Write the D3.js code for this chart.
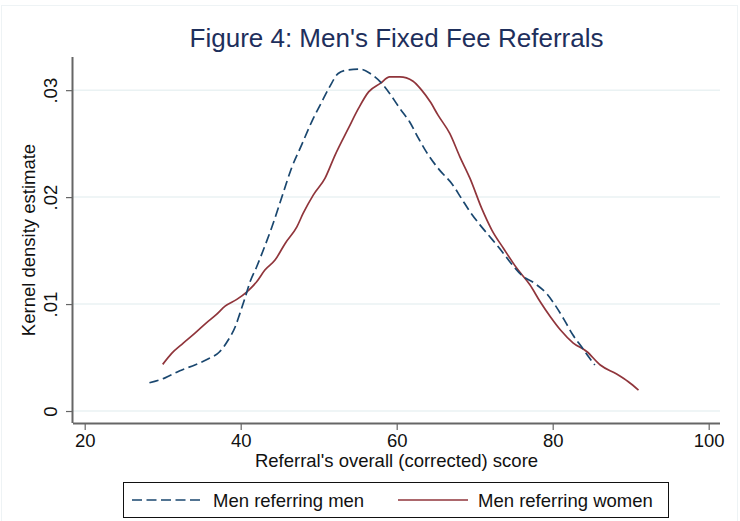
<!DOCTYPE html>
<html><head><meta charset="utf-8">
<script src="https://cdn.jsdelivr.net/npm/d3@7"></script>
<style>body{margin:0;background:#fff}svg{display:block;font-family:Arial,"Liberation Sans",sans-serif}</style>
</head><body>
<svg id="c" width="740" height="521"></svg>
<script>
const title = "Figure 4: Men's Fixed Fee Referrals";
const xTitle = "Referral's overall (corrected) score";
const yTitle = "Kernel density estimate";
const xTicks = [20, 40, 60, 80, 100];
const yTicks = [0, 0.01, 0.02, 0.03];
const yTickLabels = ["0", ".01", ".02", ".03"];
const seriesNames = ["Men referring men", "Men referring women"];

const menX = [28.3,30.3,32.2,34.2,35.8,37.3,38.4,39.3,39.9,40.6,41.2,42.05,42.9,44.0,45.5,46.5,47.8,49.1,50.4,51.4,52.5,53.6,55.3,56.6,57.9,59.1,60.4,61.65,62.8,63.8,65.5,67.05,68.3,69.4,70.7,71.95,73.2,74.5,76.0,77.7,79.2,80.3,81.5,82.6,83.7,84.6,85.4];
const menY = [0.00264,0.0031,0.00377,0.00433,0.00486,0.00554,0.00664,0.00788,0.00913,0.01068,0.01208,0.01349,0.01505,0.0172,0.0205,0.02268,0.02486,0.02704,0.02891,0.03031,0.03156,0.03187,0.03196,0.03156,0.03078,0.02969,0.02829,0.02704,0.02549,0.02423,0.02252,0.02128,0.01988,0.01863,0.01738,0.01629,0.0152,0.01396,0.01271,0.01193,0.011,0.00991,0.0085,0.0071,0.006,0.00507,0.0043];

const womenX = [30.0,31.15,32.6,34.1,35.6,36.9,38.0,39.5,40.8,42.05,43.1,44.4,45.7,47.2,48.0,49.3,50.8,52.1,53.8,55.1,56.4,57.9,59.1,60.4,62.1,63.2,64.3,65.3,66.8,68.1,69.4,70.9,72.2,73.7,75.4,77.1,78.4,79.7,81.0,82.6,84.4,86.1,88.2,89.7,91.0];
const womenY = [0.00436,0.00539,0.00633,0.00726,0.00825,0.00904,0.00981,0.01044,0.01115,0.01208,0.01318,0.01411,0.01567,0.01722,0.01847,0.02019,0.02175,0.02393,0.02642,0.02829,0.02984,0.03063,0.03124,0.03124,0.03084,0.03,0.02891,0.02766,0.02595,0.02377,0.02175,0.01894,0.01692,0.0152,0.01334,0.01178,0.01021,0.00881,0.00757,0.00638,0.00554,0.0043,0.00346,0.00274,0.00196];

const colors = ["#1a476f", "#90353b"];
const svg = d3.select("#c");
const L = 73, R = 720, T = 57, B = 423;
const x = d3.scaleLinear().domain([18.5, 101.45]).range([L, R]);
const y = d3.scaleLinear().domain([-0.00112, 0.0331]).range([B, T]);

svg.append("rect").attr("x",1.5).attr("y",5.5).attr("width",736).attr("height",520)
  .attr("fill","#fff").attr("stroke","#eef3f5").attr("stroke-width",1);

// gridlines
svg.append("g").selectAll("line").data(yTicks).join("line")
  .attr("x1",L).attr("x2",R).attr("y1",d=>y(d)).attr("y2",d=>y(d))
  .attr("stroke","#eaf2f3").attr("stroke-width",1.5);

// axes
const gx = svg.append("g").attr("transform",`translate(0,${B})`)
  .call(d3.axisBottom(x).tickValues(xTicks).tickSize(7).tickPadding(4).tickFormat(d3.format("d")));
gx.select(".domain").attr("d", `M${L},0.5H${R}`);
const gy = svg.append("g").attr("transform",`translate(${L},0)`)
  .call(d3.axisLeft(y).tickValues(yTicks).tickSize(7).tickPadding(4).tickFormat((d,i)=>yTickLabels[i]));
gy.select(".domain").attr("d", `M-0.5,${T}V${B}`);
[gx, gy].forEach(g=>{
  g.select(".domain").attr("stroke","#666").attr("stroke-width",2);
  g.selectAll(".tick line").attr("stroke","#666").attr("stroke-width",1.2);
  g.selectAll(".tick text").attr("fill","#111").style("font-size","18.5px").style("font-family","Arial, 'Liberation Sans', sans-serif");
});
gx.selectAll(".tick text").attr("dy",null).attr("y",null).attr("transform",null)
  .attr("dominant-baseline","auto").attr("y",24);
gy.selectAll(".tick text").attr("x",null).attr("dy",null)
  .attr("text-anchor","middle").attr("transform","translate(-16.5,0) rotate(-90)");

// lines
const line = d3.line().x(d=>x(d[0])).y(d=>y(d[1])).curve(d3.curveMonotoneX);
const men = menX.map((v,i)=>[v,menY[i]]);
const women = womenX.map((v,i)=>[v,womenY[i]]);
svg.append("path").datum(women).attr("d",line).attr("fill","none")
  .attr("stroke",colors[1]).attr("stroke-width",1.7);
svg.append("path").datum(men).attr("d",line).attr("fill","none")
  .attr("stroke",colors[0]).attr("stroke-width",1.7).attr("stroke-dasharray","9.5,4.5");

// titles
svg.append("text").attr("x",(L+R)/2).attr("y",47).attr("text-anchor","middle")
  .attr("fill","#1e2f5c").style("font-size","26px").text(title);
svg.append("text").attr("x",(L+R)/2).attr("y",467).attr("text-anchor","middle")
  .attr("fill","#111").style("font-size","18.5px").text(xTitle);
svg.append("text").attr("transform",`translate(35,${(T+B)/2}) rotate(-90)`).attr("text-anchor","middle")
  .attr("fill","#111").style("font-size","18.5px").text(yTitle);

// legend
const lg = svg.append("g");
lg.append("rect").attr("x",123.5).attr("y",482.5).attr("width",545).attr("height",35)
  .attr("fill","#fff").attr("stroke","#111").attr("stroke-width",1);
const items = [{x1:132,x2:202,tx:213},{x1:398,x2:468,tx:478}];
items.forEach((it,i)=>{
  lg.append("line").attr("x1",it.x1).attr("x2",it.x2).attr("y1",500).attr("y2",500)
    .attr("stroke",colors[i]).attr("stroke-width",1.7).attr("stroke-dasharray", i===0?"10,4.5":null);
  lg.append("text").attr("x",it.tx).attr("y",507).attr("fill","#111").style("font-size","18.5px").text(seriesNames[i]);
});
</script>
</body></html>
